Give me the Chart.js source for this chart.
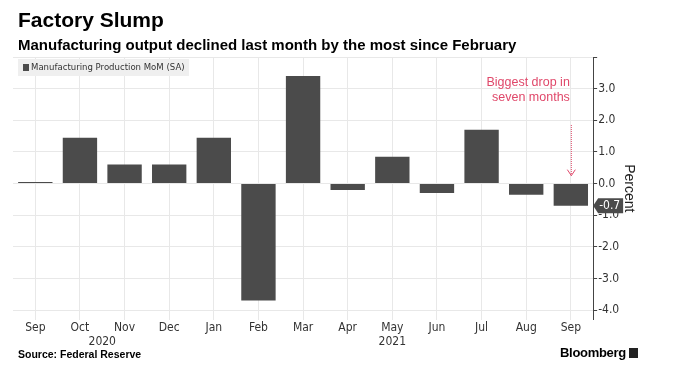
<!DOCTYPE html>
<html>
<head>
<meta charset="utf-8">
<script src="https://cdn.jsdelivr.net/npm/chart.js@4/dist/chart.umd.min.js"></script>
<style>
  body { margin: 0; background: #fff; font-family: "Liberation Sans", Arial, sans-serif; }
  #wrap { position: relative; width: 675px; height: 392px; overflow: hidden; }
  #title { position: absolute; left: 18px; top: 8px; margin: 0; font-size: 21px; font-weight: bold; color: #000; }
  #subtitle { position: absolute; left: 18px; top: 36px; margin: 0; font-size: 15px; font-weight: bold; color: #000; }
  #source { position: absolute; left: 18px; top: 348px; font-size: 10.5px; font-weight: bold; color: #000; }
  #brand { position: absolute; left: 560px; top: 345px; font-size: 13px; font-weight: bold; color: #000; letter-spacing: -0.3px; }
  #brand span { display: inline-block; width: 9px; height: 10px; background: #222; margin-left: 3px; vertical-align: -1px; }
  canvas { position: absolute; left: 0; top: 0; }
</style>
</head>
<body>
<div id="wrap">
  <canvas id="chart" width="675" height="392"></canvas>
  <div id="title">Factory Slump</div>
  <div id="subtitle">Manufacturing output declined last month by the most since February</div>
  <div id="source">Source: Federal Reserve</div>
  <div id="brand">Bloomberg<span></span></div>
</div>
<script>
// ===== DATA =====
const months = ["Sep", "Oct", "Nov", "Dec", "Jan", "Feb", "Mar", "Apr", "May", "Jun", "Jul", "Aug", "Sep"];
const monthYears = ["2020", "2020", "2020", "2020", "2021", "2021", "2021", "2021", "2021", "2021", "2021", "2021", "2021"];
const production = [0.05, 1.45, 0.6, 0.6, 1.45, -3.7, 3.4, -0.2, 0.85, -0.3, 1.7, -0.35, -0.7];
const yTicks = [-4, -3.5, -3, -2.5, -2, -1.5, -1, -0.5, 0, 0.5, 1, 1.5, 2, 2.5, 3, 3.5, 4];
const seriesName = "Manufacturing Production MoM (SA)";
const noteLines = ["Biggest drop in", "seven months"];
const lastLabel = "-0.7";

const barColor = "#4b4b4b";
const noteColor = "#e0486a";
const axisFont = "'Liberation Sans Narrow', 'DejaVu Sans Condensed', 'Liberation Sans', sans-serif";

// extra drawing: legend box, year labels, note + arrow, last value tag
const extras = {
  id: "extras",
  beforeDatasetsDraw(chart) {
    const { ctx, chartArea } = chart;
    ctx.save();
    ctx.fillStyle = "#efefef";
    ctx.fillRect(chartArea.left + 5, chartArea.top + 2, 171, 17);
    ctx.fillStyle = barColor;
    ctx.fillRect(chartArea.left + 10, chartArea.top + 7, 6, 7);
    ctx.fillStyle = "#333";
    ctx.font = "9.5px " + axisFont;
    ctx.textBaseline = "middle";
    ctx.fillText(seriesName, chartArea.left + 18, chartArea.top + 11);
    ctx.restore();
  },
  afterDraw(chart) {
    const { ctx } = chart;
    const x = chart.scales.x;
    const y = chart.scales.y;
    ctx.save();

    // year labels under the month ticks
    ctx.font = "12px " + axisFont;
    ctx.fillStyle = "#333";
    ctx.textAlign = "center";
    ctx.textBaseline = "middle";
    const years = [...new Set(monthYears)];
    years.forEach((yr) => {
      const idx = monthYears.map((m, i) => (m === yr ? i : -1)).filter((i) => i >= 0);
      const mid = (x.getPixelForValue(idx[0]) + x.getPixelForValue(idx[idx.length - 1])) / 2;
      ctx.fillText(yr, mid, x.bottom + 6);
    });

    // note text
    const last = production.length - 1;
    const lx = x.getPixelForValue(last);
    ctx.font = "12.5px 'Liberation Sans', Arial, sans-serif";
    ctx.fillStyle = noteColor;
    ctx.textAlign = "right";
    ctx.fillText(noteLines[0], lx - 1, y.getPixelForValue(3.18));
    ctx.fillText(noteLines[1], lx - 1, y.getPixelForValue(2.73));

    // dotted arrow
    const y0 = y.getPixelForValue(1.85);
    const y1 = y.getPixelForValue(0.25);
    ctx.strokeStyle = noteColor;
    ctx.lineWidth = 1;
    ctx.setLineDash([1, 1]);
    ctx.beginPath();
    ctx.moveTo(lx + 0.5, y0);
    ctx.lineTo(lx + 0.5, y1);
    ctx.stroke();
    ctx.setLineDash([]);
    ctx.beginPath();
    ctx.moveTo(lx - 3.5, y1 - 6);
    ctx.lineTo(lx + 0.5, y1);
    ctx.lineTo(lx + 4.5, y1 - 6);
    ctx.stroke();

    // last value tag on the axis
    const ty = y.getPixelForValue(production[last]);
    ctx.fillStyle = barColor;
    ctx.beginPath();
    ctx.moveTo(y.left, ty);
    ctx.lineTo(y.left + 5, ty - 7.5);
    ctx.lineTo(y.left + 30, ty - 7.5);
    ctx.lineTo(y.left + 30, ty + 7.5);
    ctx.lineTo(y.left + 5, ty + 7.5);
    ctx.closePath();
    ctx.fill();
    ctx.fillStyle = "#fff";
    ctx.font = "12px " + axisFont;
    ctx.textAlign = "left";
    ctx.fillText(lastLabel, y.left + 6, ty + 0.5);
    ctx.restore();
  },
};

new Chart(document.getElementById("chart"), {
  type: "bar",
  data: {
    labels: months,
    datasets: [
      {
        label: seriesName,
        data: production,
        backgroundColor: barColor,
        borderWidth: 0,
        barPercentage: 0.77,
        categoryPercentage: 1,
      },
    ],
  },
  options: {
    responsive: false,
    animation: false,
    layout: { padding: { top: 57, left: 13, right: 34, bottom: 56 } },
    plugins: {
      legend: { display: false },
      tooltip: { enabled: false },
    },
    scales: {
      x: {
        offset: true,
        grid: { color: "#e8e8e8", offset: false, drawTicks: false },
        border: { display: false },
        ticks: {
          color: "#333",
          padding: 1,
          maxRotation: 0,
          font: { size: 12, family: axisFont },
        },
      },
      y: {
        position: "right",
        min: -4.3,
        max: 4.0,
        afterBuildTicks: (s) => {
          s.ticks = yTicks.map((v) => ({ value: v }));
        },
        grid: {
          color: (c) => (c.tick && Number.isInteger(c.tick.value) ? "#e8e8e8" : "rgba(0,0,0,0)"),
          tickColor: "#444",
          tickLength: 4,
        },
        border: { display: true, color: "#444" },
        ticks: {
          padding: 1,
          color: "#333",
          font: { size: 12, family: axisFont },
          callback: (v) => (Number.isInteger(v) && v < 4 ? v.toFixed(1) : ""),
        },
        title: {
          display: true,
          text: "Percent",
          color: "#222",
          font: { size: 14, family: "'Liberation Sans', Arial, sans-serif" },
          padding: { top: 4, bottom: 0 },
        },
      },
    },
  },
  plugins: [extras],
});
</script>
</body>
</html>
